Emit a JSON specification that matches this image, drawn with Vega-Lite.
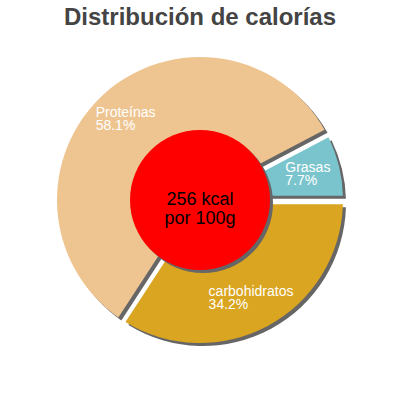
{
  "$schema": "https://vega.github.io/schema/vega-lite/v6.json",
  "width": 400,
  "height": 320,
  "autosize": {"type": "none"},
  "padding": {"top": 40, "bottom": 40, "left": 0, "right": 0},
  "background": "white",
  "view": {"stroke": null},
  "title": {
    "text": "Distribución de calorías",
    "font": "Liberation Sans",
    "fontSize": 24,
    "fontWeight": "bold",
    "color": "#444444",
    "anchor": "middle",
    "offset": 10
  },
  "datasets": {
    "nutrientes": [
      {"nutriente": "Grasas", "parte": 0.077},
      {"nutriente": "carbohidratos", "parte": 0.342},
      {"nutriente": "Proteínas", "parte": 0.581}
    ],
    "energia": [{"kcal": 256}]
  },
  "layer": [
    {
      "data": {"name": "nutrientes"},
      "mark": {"type": "arc", "outerRadius": 143, "innerRadius": 60, "padAngle": 0.055, "color": "#666666", "xOffset": 3, "yOffset": 3},
      "encoding": {
        "theta": {"field": "parte", "type": "quantitative", "stack": true, "scale": {"range": [1.5708, 7.854]}},
        "order": {"field": "nutriente", "sort": "descending"}
      }
    },
    {
      "data": {"name": "nutrientes"},
      "mark": {"type": "arc", "outerRadius": 143, "innerRadius": 60, "padAngle": 0.055},
      "encoding": {
        "theta": {"field": "parte", "type": "quantitative", "stack": true, "scale": {"range": [1.5708, 7.854]}},
        "order": {"field": "nutriente", "sort": "descending"},
        "color": {
          "field": "nutriente",
          "type": "nominal",
          "scale": {
            "domain": ["Grasas", "carbohidratos", "Proteínas"],
            "range": ["#7AC5CD", "#DAA520", "#EEC591"]
          },
          "legend": null
        }
      }
    },
    {
      "data": {"name": "nutrientes"},
      "mark": {
        "type": "text",
        "radius": 110.5,
        "align": "left",
        "baseline": "alphabetic",
        "dy": -1.5,
        "dx": {"expr": "datum.nutriente == 'Proteínas' ? -30 : datum.nutriente == 'Grasas' ? -22 : -44"},
        "font": "Liberation Sans",
        "fontSize": 14,
        "color": "white"
      },
      "encoding": {
        "theta": {"field": "parte", "type": "quantitative", "stack": true, "scale": {"range": [1.5708, 7.854]}},
        "order": {"field": "nutriente", "sort": "descending"},
        "text": {"field": "nutriente"}
      }
    },
    {
      "data": {"name": "nutrientes"},
      "mark": {
        "type": "text",
        "radius": 110.5,
        "align": "left",
        "baseline": "alphabetic",
        "dy": 11.5,
        "dx": {"expr": "datum.nutriente == 'Proteínas' ? -30 : datum.nutriente == 'Grasas' ? -22 : -44"},
        "font": "Liberation Sans",
        "fontSize": 14,
        "color": "white"
      },
      "encoding": {
        "theta": {"field": "parte", "type": "quantitative", "stack": true, "scale": {"range": [1.5708, 7.854]}},
        "order": {"field": "nutriente", "sort": "descending"},
        "text": {"field": "parte", "format": ".1%"}
      }
    },
    {
      "data": {"name": "energia"},
      "mark": {"type": "arc", "radius": 70, "color": "#666666", "xOffset": 3, "yOffset": 3},
      "encoding": {}
    },
    {
      "data": {"name": "energia"},
      "mark": {"type": "arc", "radius": 70, "color": "#FF0000"},
      "encoding": {}
    },
    {
      "data": {"name": "energia"},
      "mark": {
        "type": "text",
        "text": ["256 kcal", "por 100g"],
        "font": "Liberation Sans",
        "fontSize": 18,
        "lineHeight": 18.5,
        "align": "center",
        "baseline": "middle",
        "color": "black"
      },
      "encoding": {}
    }
  ]
}
